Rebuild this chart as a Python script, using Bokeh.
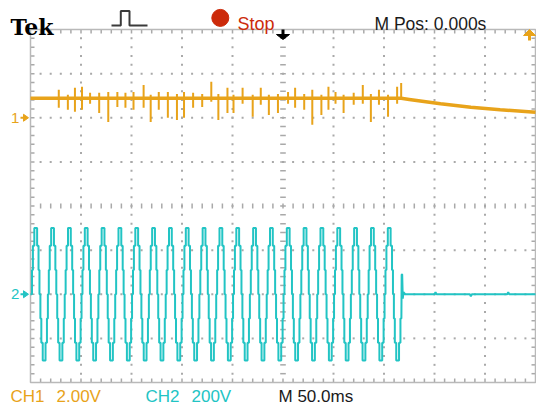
import numpy as np
from bokeh.plotting import figure
from bokeh.models import Range1d, Label
from bokeh.embed import file_html
from bokeh.resources import INLINE

# ---------------- scope settings ----------------
TIME_PER_DIV_MS = 50.0      # "M 50.0ms"
H_DIVS = 10
V_DIVS = 8
CH1_V_PER_DIV = 2.0         # "CH1 2.00V"
CH2_V_PER_DIV = 200.0       # "CH2 200V"
CH1_GROUND_DIV = 2.0        # "1>" marker
CH2_GROUND_DIV = -2.0       # "2>" marker

# ---------------- CH1 (orange) ----------------
CH1_BASE_T_MS = [-250, 117, 125, 156, 186, 215, 250]
CH1_BASE_V = [0.88, 0.88, 0.83, 0.63, 0.48, 0.36, 0.25]
CH1_SPIKE_T_MS = [-222, -213, -206, -199, -191, -182, -173, -164, -156, -148,
                  -138, -131, -123, -114, -105, -98, -89, -80, -71, -64,
                  -55, -49, -40, -30, -22, -14, -5, 5, 12, 21,
                  29, 38, 45, 52, 60, 70, 79, 87, 95, 104, 113, 117]
CH1_SPIKE_HI_V = [1.27, 1.04, 1.36, 1.40, 1.13, 1.13, 1.17, 1.17, 1.13, 1.17,
                  1.49, 1.04, 1.17, 1.17, 1.08, 1.17, 1.13, 1.08, 1.63, 1.08,
                  1.36, 1.04, 1.36, 1.04, 1.36, 1.04, 1.08, 1.17, 1.36, 1.08,
                  1.27, 1.04, 1.40, 1.17, 1.04, 1.13, 1.49, 1.08, 1.27, 1.04, 1.40, 1.58]
CH1_SPIKE_LO_V = [0.45, 0.36, 0.27, 0.36, 0.63, 0.22, -0.19, 0.49, 0.45, 0.36,
                  0.45, -0.19, 0.36, 0.00, -0.10, 0.00, 0.45, 0.49, 0.72, -0.10,
                  0.22, 0.22, 0.63, 0.04, 0.59, 0.13, 0.22, 0.63, 0.45, 0.36,
                  -0.32, 0.13, 0.36, 0.63, 0.22, 0.59, 0.63, -0.19, 0.59, 0.04, 0.63, 0.81]

# ---------------- CH2 (cyan): 60 Hz 7-level staircase ----------------
CH2_FREQ_HZ = 60.0
CH2_FIRST_ZERO_MS = -249.0
CH2_CYCLES = 22
CH2_STEP_START_DEG = [-10, 10, 30, 60, 120, 150, 170, 190, 210, 240, 300, 330]
CH2_STEP_LEVEL_V = [0, 110, 220, 300, 220, 110, 0, -110, -220, -300, -220, -110]
CH2_TAIL_T_MS = [117.5, 118.0, 118.6, 119.2, 121.0, 150, 151, 152, 185, 186, 187, 222, 223, 224, 250]
CH2_TAIL_V = [90, 90, -20, 10, 0, 0, 9, 0, 0, -9, 0, 0, 9, 0, 0]

# ---------------- texts ----------------
BRAND = "Tek"
RUN_STATE = "Stop"
HPOS_TEXT = "M Pos: 0.000s"
CH1_LABEL, CH1_SCALE = "CH1", "2.00V"
CH2_LABEL, CH2_SCALE = "CH2", "200V"
TIMEBASE_TEXT = "M 50.0ms"

# ---------------- colours / layout ----------------
C_CH1 = "#e8a31a"
C_CH2 = "#22c4c4"
C_GRID = "#a9a9a9"
C_FRAME = "#b9b9b9"
C_RED = "#cc2a0a"
C_TEXT = "#1a1a1a"
FONT = "Liberation Sans"

W, H = 536, 404
FRAME_LEFT_PX, FRAME_TOP_PX = 30, 29
PX_PER_DIV_X = 50.5
PX_PER_DIV_Y = 44.125
MS_PER_PX = TIME_PER_DIV_MS / PX_PER_DIV_X

t_left = -H_DIVS / 2 * TIME_PER_DIV_MS
t_right = H_DIVS / 2 * TIME_PER_DIV_MS
d_top = V_DIVS / 2
d_bot = -V_DIVS / 2

x_start = t_left - FRAME_LEFT_PX * MS_PER_PX
x_end = x_start + W * MS_PER_PX
y_top = d_top + FRAME_TOP_PX / PX_PER_DIV_Y
y_bot = y_top - H / PX_PER_DIV_Y


def X(px):  # canvas px -> time (ms)
    return x_start + px * MS_PER_PX


def Y(py):  # canvas px -> divisions
    return y_top - py / PX_PER_DIV_Y


p = figure(width=W, height=H, x_range=Range1d(x_start, x_end), y_range=Range1d(y_bot, y_top),
           x_axis_type=None, y_axis_type=None, toolbar_location=None, output_backend="svg",
           min_border=0, outline_line_color=None,
           background_fill_color="white", border_fill_color="white")
p.extra_y_ranges = {
    "ch1": Range1d((y_bot - CH1_GROUND_DIV) * CH1_V_PER_DIV, (y_top - CH1_GROUND_DIV) * CH1_V_PER_DIV),
    "ch2": Range1d((y_bot - CH2_GROUND_DIV) * CH2_V_PER_DIV, (y_top - CH2_GROUND_DIV) * CH2_V_PER_DIV),
}

# ---------------- graticule ----------------
minor_t = np.arange(t_left, t_right + 0.01, TIME_PER_DIV_MS / 5)[1:-1]
minor_d = np.arange(d_bot, d_top + 0.001, 0.2)[1:-1]
major_t = np.arange(t_left, t_right + 0.01, TIME_PER_DIV_MS)[1:-1]
major_d = np.arange(d_bot, d_top + 0.001, 1.0)[1:-1]

dx, dy = [], []
for t in major_t:
    if abs(t) > 1e-6:
        dx += [t] * len(minor_d)
        dy += list(minor_d)
for d in major_d:
    if abs(d) > 1e-6:
        dx += list(minor_t)
        dy += [d] * len(minor_t)
p.scatter(dx, dy, marker="square", size=2, color=C_GRID, line_width=0)

half_dash_t = 2.8 * MS_PER_PX
half_dash_d = 2.5 / PX_PER_DIV_Y
p.segment(x0=-half_dash_t, x1=half_dash_t, y0=minor_d, y1=minor_d, line_color=C_GRID, line_width=1.5)
p.segment(x0=minor_t, x1=minor_t, y0=-half_dash_d, y1=half_dash_d, line_color=C_GRID, line_width=1.5)

tick_t = 4 * MS_PER_PX
tick_d = 4 / PX_PER_DIV_Y
p.segment(x0=minor_t, x1=minor_t, y0=d_top, y1=d_top - tick_d, line_color=C_GRID, line_width=1.5)
p.segment(x0=minor_t, x1=minor_t, y0=d_bot, y1=d_bot + tick_d, line_color=C_GRID, line_width=1.5)
p.segment(x0=t_left, x1=t_left + tick_t, y0=minor_d, y1=minor_d, line_color=C_GRID, line_width=1.5)
p.segment(x0=t_right, x1=t_right - tick_t, y0=minor_d, y1=minor_d, line_color=C_GRID, line_width=1.5)
p.line([t_left, t_right, t_right, t_left, t_left], [d_top, d_top, d_bot, d_bot, d_top],
       line_color=C_FRAME, line_width=1.5)

# ---------------- CH2 trace ----------------
period = 1000.0 / CH2_FREQ_HZ
starts = CH2_STEP_START_DEG + [CH2_STEP_START_DEG[0] + 360]
t2, v2 = [t_left], [0.0]
for c in range(CH2_CYCLES):
    t0 = CH2_FIRST_ZERO_MS + c * period
    for i, lvl in enumerate(CH2_STEP_LEVEL_V):
        t2 += [t0 + starts[i] / 360 * period, t0 + starts[i + 1] / 360 * period]
        v2 += [lvl, lvl]
t2 += CH2_TAIL_T_MS
v2 += CH2_TAIL_V
p.line(t2, v2, y_range_name="ch2", line_color=C_CH2, line_width=2)

# ---------------- CH1 trace ----------------
p.line(CH1_BASE_T_MS, CH1_BASE_V, y_range_name="ch1", line_color=C_CH1, line_width=3.5)
p.segment(x0=CH1_SPIKE_T_MS, x1=CH1_SPIKE_T_MS, y0=CH1_SPIKE_LO_V, y1=CH1_SPIKE_HI_V,
          y_range_name="ch1", line_color=C_CH1, line_width=2)

# ---------------- markers ----------------
# trigger position (black, top centre)
p.segment(x0=[0], x1=[0], y0=[Y(29)], y1=[Y(35)], line_color="black", line_width=3)
p.patch([-6.5 * MS_PER_PX, 6.5 * MS_PER_PX, 0], [Y(34), Y(34), Y(39)], color="black")
# trigger level (orange, off-screen above)
tx = X(529)
p.segment(x0=[tx], x1=[tx], y0=[Y(34)], y1=[Y(40)], line_color=C_CH1, line_width=3)
p.patch([tx - 6 * MS_PER_PX, tx + 6 * MS_PER_PX, tx], [Y(35), Y(35), Y(29)], color=C_CH1)
# channel ground markers
for gnd, col, lab in [(CH1_GROUND_DIV, C_CH1, "1"), (CH2_GROUND_DIV, C_CH2, "2")]:
    p.segment(x0=[X(20)], x1=[X(24)], y0=[gnd], y1=[gnd], line_color=col, line_width=2)
    p.patch([X(23), X(23), X(28)], [gnd + 3.5 / PX_PER_DIV_Y, gnd - 3.5 / PX_PER_DIV_Y, gnd], color=col)
    p.add_layout(Label(x=X(10.5), y=gnd, text=lab, text_color=col, text_font=FONT,
                       text_font_size="15px", text_baseline="middle"))

# run / trigger type icons
p.line([X(111), X(120.3), X(120.3), X(129), X(129), X(147)],
       [Y(25), Y(25), Y(10.5), Y(10.5), Y(25), Y(25)], line_color="#3a3a3a", line_width=2)
p.scatter([X(219.8)], [Y(17.4)], size=17, color=C_RED)


def text(s, px, py, size, color, font=FONT, style="normal"):
    p.add_layout(Label(x=X(px), y=Y(py), text=s, text_color=color, text_font=font,
                       text_font_size=size, text_font_style=style, text_baseline="alphabetic"))


text(BRAND, 10, 26.5, "22px", "black", font="DejaVu Serif", style="bold")
text(RUN_STATE, 237, 23.8, "18px", C_RED)
text(HPOS_TEXT, 374, 23.2, "17.5px", C_TEXT)
text(CH1_LABEL, 10, 395.5, "17px", C_CH1)
text(CH1_SCALE, 56, 395.5, "17px", C_CH1)
text(CH2_LABEL, 145, 395.5, "17px", C_CH2)
text(CH2_SCALE, 191, 395.5, "17px", C_CH2)
text(TIMEBASE_TEXT, 278, 395.5, "17px", C_TEXT)

open("out.html", "w").write(file_html(p, INLINE))
